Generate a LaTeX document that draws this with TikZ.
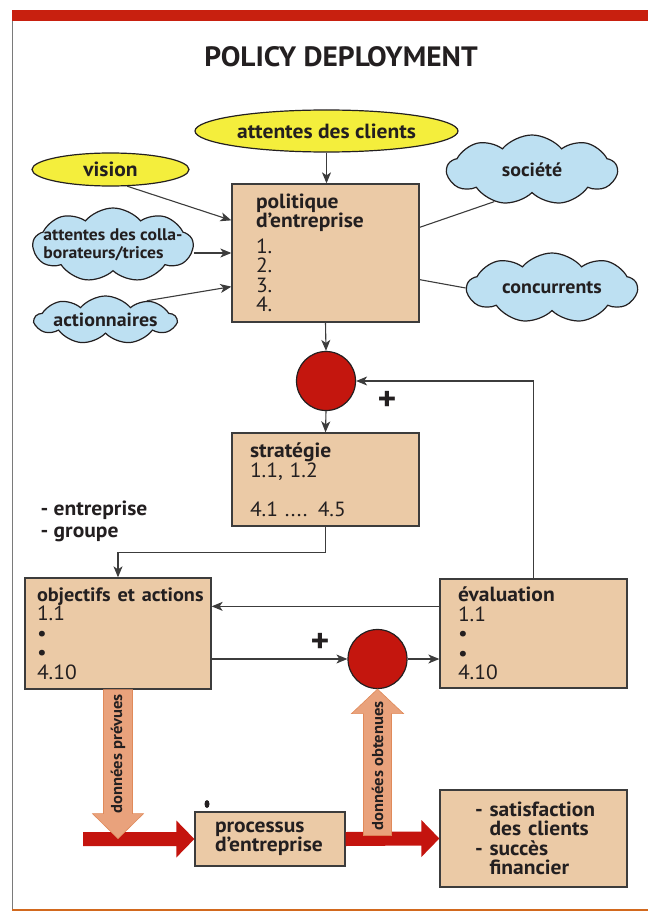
\documentclass[tikz,border=0pt]{standalone}
\usepackage{fontspec}
\setmainfont{PT Sans}[FakeStretch=1.05]
\usetikzlibrary{shapes.geometric,shapes.symbols,arrows.meta,calc}
\definecolor{tanfill}{HTML}{EBCAA6}
\definecolor{ylw}{HTML}{F4EE3C}
\definecolor{cloudblue}{HTML}{BDE0F2}
\definecolor{dotred}{HTML}{C4160E}
\definecolor{arrred}{HTML}{C4140E}
\definecolor{salmon}{HTML}{E9A27C}
\definecolor{saledge}{HTML}{E08A5A}
\definecolor{ink}{HTML}{231F20}
\definecolor{linegray}{HTML}{3C3C3C}
\definecolor{titlered}{HTML}{C8200F}
\definecolor{framegray}{HTML}{7A7A7A}
\definecolor{frameorange}{HTML}{D2691E}
\begin{document}
\begin{tikzpicture}[x=1pt,y=-1pt,
  every node/.style={text=ink},
  bx/.style={draw=linegray, line width=1.3pt, fill=tanfill, rectangle, inner ysep=0pt, align=left, font=\fontsize{20.5}{19.5}\selectfont},
  ell/.style={draw=ink, line width=1.2pt, fill=ylw, ellipse, inner sep=0pt, font=\bfseries\fontsize{20.5}{20}\selectfont},
  cld/.style={draw=ink, line width=1.2pt, fill=cloudblue, cloud, cloud puffs=9, cloud puff arc=100, cloud ignores aspect, inner sep=0pt, font=\bfseries\fontsize{19}{19}\selectfont},
  sumdot/.style={draw=ink, line width=1.2pt, fill=dotred, circle, minimum size=59pt, inner sep=0pt},
  conn/.style={draw=linegray, line width=1.1pt},
  arr/.style={conn, -{Stealth[length=11pt,width=9pt,inset=3pt]}},
  plus/.style={font=\bfseries\fontsize{34}{34}\selectfont, inner sep=0pt},
  lbl/.style={anchor=base west, font=\bfseries\fontsize{20.5}{20}\selectfont},
  vlbl/.style={rotate=90, font=\bfseries\fontsize{15.8}{15.8}\selectfont, inner sep=0pt},
]
\useasboundingbox (0,0) rectangle (648,912);
% frame
\fill[titlered] (12,10) rectangle (648,21);
\draw[framegray, line width=1.2pt] (12.5,21) -- (12.5,909);
\draw[frameorange, line width=2pt] (12,910) -- (648,910);

\node[font=\bfseries\fontsize{28}{28}\selectfont] (title) at (341,57) {POLICY DEPLOYMENT};

% boxes
\node[bx, minimum width=187pt, minimum height=138pt, text width=139pt] (pol) at (325.5,253)
  {\textbf{politique}\\\textbf{d'entreprise}\\[6pt]1.\\2.\\3.\\4.};
\node[bx, minimum width=187pt, minimum height=93pt, text width=151pt] (strat) at (325.5,479.5)
  {\textbf{stratégie}\\1.1, 1.2\\[19.5pt]4.1 .... 4.5};
\node[bx, minimum width=186pt, minimum height=111pt, text width=162pt] (obj) at (118,633.5)
  {\mbox{\bfseries\fontsize{19.3}{19.5}\selectfont objectifs et actions}\\1.1\\•\\•\\4.10};
\node[bx, minimum width=187pt, minimum height=109pt, text width=151pt] (ev) at (533.5,633.5)
  {\textbf{évaluation}\\1.1\\•\\•\\4.10};
\node[bx, minimum width=150pt, minimum height=54pt, text width=110pt, font=\bfseries\fontsize{20.5}{19.5}\selectfont] (proc) at (270,839)
  {\mbox{processus}\\\mbox{d'entreprise}};
\node[bx, minimum width=187pt, minimum height=97pt, text width=117pt, font=\bfseries\fontsize{20.5}{19.5}\selectfont] (sat) at (533.5,838.5)
  {\mbox{- satisfaction}\\\mbox{\phantom{- }des clients}\\\mbox{- succès}\\\mbox{\phantom{- }financier}};

% ellipses
\node[ell, minimum width=263pt, minimum height=42pt] (clients) at (326.5,131) {attentes des clients};
\node[ell, minimum width=157pt, minimum height=33pt] (vision) at (110.5,169.5) {vision};

% clouds
\node[cld, minimum width=160pt, minimum height=74pt, inner xsep=-45pt, inner ysep=-14pt, align=left, font=\bfseries\fontsize{16.8}{18}\selectfont] (collab) at (113,245) {attentes des colla-\\borateurs/trices};
\node[cld, minimum width=139pt, minimum height=48pt] (action) at (105.5,320) {actionnaires};
\node[cld, minimum width=170pt, minimum height=70pt] (soc) at (532,170) {société};
\node[cld, minimum width=170pt, minimum height=70pt] (conc) at (552,288) {concurrents};

% summing points
\node[sumdot] (c1) at (326,381) {};
\node[sumdot] (c2) at (377.5,659) {};
\node[plus] (p1) at (387,401) {+};
\node[plus] (p2) at (320,643) {+};

% labels
\node[lbl] (ent) at (37,515) {- entreprise};
\node[lbl] (grp) at (37,537) {- groupe};

% connectors
\draw[arr] (clients.south) -- (clients.south |- pol.north);
\draw[arr] (vision.-45) -- ($(pol.north west)+(0,37)$);
\draw[arr] (collab.east |- pol.west) -- (pol.west);
\draw[arr] (action.25) -- ($(pol.south west)+(0,-36)$);
\draw[conn] ($(pol.north east)+(0,44)$) -- (soc.-140);
\draw[conn] ($(pol.south east)+(0,-43)$) -- (conc.west);
\draw[arr] (pol.south) -- (c1.north);
\draw[arr] (c1.south) -- (strat.north);
\draw[arr] (ev.north) |- (c1.east);
\draw[arr] (strat.south) -- ++(0,26) -| (obj.north);
\coordinate (fb) at ($(ev.north west)+(0,28)$);
\draw[arr] (fb) -- (fb -| obj.east);
\draw[arr] (obj.east |- c2.west) -- (c2.west);
\draw[arr] (c2.east) -- (c2.east -| ev.west);

% red process arrows
\coordinate (rs) at (83,839);
\fill[arrred] ($(rs)+(0,-7)$) -- ($(proc.west)+(-18,-7)$) -- ($(proc.west)+(-18,-18.5)$) -- (proc.west)
  -- ($(proc.west)+(-18,18.5)$) -- ($(proc.west)+(-18,7)$) -- ($(rs)+(0,7)$) -- cycle;
\fill[arrred] ($(proc.east)+(0,-7)$) -- ($(sat.west)+(-18,-7)$) -- ($(sat.west)+(-18,-18.5)$) -- (sat.west)
  -- ($(sat.west)+(-18,18.5)$) -- ($(sat.west)+(-18,7)$) -- ($(proc.east)+(0,7)$) -- cycle;

% data arrows
\filldraw[fill=salmon, draw=saledge, line width=0.6pt] ($(obj.south)+(-14.5,0)$) -- ($(obj.south)+(-14.5,124)$) -- ($(obj.south)+(-25.5,124)$)
  -- ($(obj.south)+(0,149)$) -- ($(obj.south)+(25.5,124)$) -- ($(obj.south)+(14.5,124)$) -- ($(obj.south)+(14.5,0)$) -- cycle;
\filldraw[fill=salmon, draw=saledge, line width=0.6pt] ($(c2.south)+(-14,146.5)$) -- ($(c2.south)+(-14,24.5)$) -- ($(c2.south)+(-26,24.5)$)
  -- (c2.south) -- ($(c2.south)+(26,24.5)$) -- ($(c2.south)+(14,24.5)$) -- ($(c2.south)+(14,146.5)$) -- cycle;
\node[vlbl] (dp) at (118,754) {données prévues};
\node[vlbl] (dob) at (377.5,766) {données obtenues};

\fill[ink] (207,804) ellipse [x radius=2.5pt, y radius=4pt];
\end{tikzpicture}
\end{document}
